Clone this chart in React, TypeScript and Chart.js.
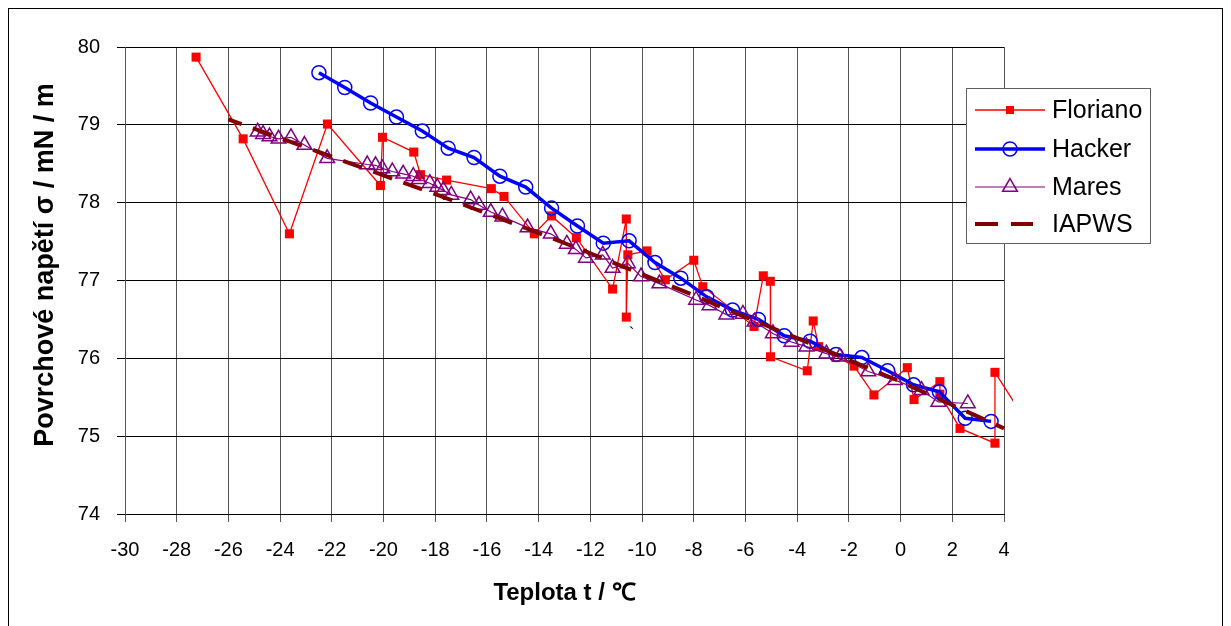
import React, { useEffect, useRef } from "react";
import { Chart, registerables } from "chart.js";

Chart.register(...registerables);

// ---- Data ----
const florianoT = [
  -27.25, -25.43, -23.64, -22.17, -20.12, -20.04, -18.83, -18.57, -17.56, -15.83,
  -15.34, -14.17, -13.5, -12.54, -11.14, -10.61, -10.61, -10.55, -9.81, -9.1,
  -8.0, -7.65, -5.67, -5.31, -5.04, -5.03, -3.61, -3.38, -3.17, -1.8,
  -1.03, 0.26, 0.52, 1.52, 1.52, 2.3, 3.65, 3.65, 5.0,
];
const florianoSigma = [
  79.87, 78.82, 77.6, 79.01, 78.22, 78.84, 78.65, 78.36, 78.29, 78.18,
  78.08, 77.6, 77.83, 77.55, 76.89, 77.79, 76.53, 77.33, 77.38, 77.01,
  77.26, 76.92, 76.41, 77.06, 76.99, 76.02, 75.84, 76.48, 76.15, 75.9,
  75.53, 75.88, 75.47, 75.7, 75.54, 75.1, 74.91, 75.82, 75.12,
];

const hackerT = [
  -22.5, -21.5, -20.5, -19.5, -18.5, -17.5, -16.5, -15.5, -14.5, -13.5,
  -12.5, -11.5, -10.5, -9.5, -8.5, -7.5, -6.5, -5.5, -4.5, -3.5,
  -2.5, -1.5, -0.5, 0.5, 1.5, 2.5, 3.5,
];
const hackerSigma = [
  79.67, 79.48, 79.28, 79.1, 78.92, 78.7, 78.58, 78.34, 78.2, 77.93,
  77.7, 77.48, 77.51, 77.23, 77.03, 76.79, 76.62, 76.5, 76.29, 76.22,
  76.05, 76.01, 75.84, 75.66, 75.57, 75.23, 75.19,
];

const maresT = [
  -24.87, -24.66, -24.41, -24.06, -23.58, -23.06, -22.18, -20.63, -20.31, -20.05,
  -19.66, -19.24, -18.85, -18.63, -18.21, -17.92, -17.69, -17.38, -16.63, -16.31,
  -15.85, -15.4, -14.43, -13.53, -12.91, -12.56, -12.17, -11.52, -11.14, -10.55,
  -10.04, -9.33, -7.91, -7.39, -6.74, -6.1, -5.65, -4.94, -4.22, -3.64,
  -2.87, -2.35, -1.25, -0.22, 0.81, 1.46, 2.6,
];
const maresSigma = [
  78.91, 78.88, 78.85, 78.82, 78.84, 78.74, 78.57, 78.49, 78.48, 78.44,
  78.4, 78.37, 78.34, 78.3, 78.25, 78.2, 78.16, 78.1, 78.04, 77.97,
  77.88, 77.82, 77.68, 77.6, 77.47, 77.4, 77.29, 77.33, 77.16, 77.22,
  77.05, 76.96, 76.75, 76.68, 76.56, 76.57, 76.47, 76.32, 76.21, 76.15,
  76.06, 76.02, 75.83, 75.72, 75.59, 75.44, 75.42,
];

const iapwsT = [-26, -24, -22, -20, -18, -16, -14, -12, -10, -8, -6, -4, -2, 0, 2, 4, 4.45];
const iapwsSigma = [
  79.07, 78.83, 78.59, 78.35, 78.11, 77.86, 77.61, 77.35, 77.08, 76.81,
  76.53, 76.26, 75.98, 75.7, 75.4, 75.1, 75.03,
];

const seriesNames = ["Floriano", "Hacker", "Mares", "IAPWS"];
const xTitle = "Teplota t / ℃";
const yTitle = "Povrchové napětí σ / mN / m";
const strayMark = { t: -10.4, sigma: 76.3, text: "`" };

const FONT = "'Liberation Sans', Arial, sans-serif";

function pts(xs: number[], ys: number[]) {
  return xs.map((x, i) => ({ x, y: ys[i] }));
}

export default function App() {
  const ref = useRef<HTMLCanvasElement | null>(null);

  useEffect(() => {
    const canvas = ref.current;
    if (!canvas) return;

    const overlayPlugin = {
      id: "overlay",
      afterDraw(chart: any) {
        const ctx = chart.ctx as CanvasRenderingContext2D;
        // stray mark
        const sx = chart.scales.x.getPixelForValue(strayMark.t);
        const sy = chart.scales.y.getPixelForValue(strayMark.sigma);
        ctx.save();
        ctx.fillStyle = "#000";
        ctx.font = `16px ${FONT}`;
        ctx.textAlign = "center";
        ctx.textBaseline = "middle";
        ctx.fillText(strayMark.text, sx, sy);
        ctx.restore();

        // y axis title
        ctx.save();
        ctx.translate(37, 256);
        ctx.rotate(-Math.PI / 2);
        ctx.fillStyle = "#000";
        ctx.font = `bold 27px ${FONT}`;
        ctx.textAlign = "center";
        ctx.textBaseline = "middle";
        ctx.fillText(yTitle, 0, 0);
        ctx.restore();

        // legend
        const bx = 957, by = 79, bw = 184, bh = 155;
        ctx.save();
        ctx.fillStyle = "#fff";
        ctx.fillRect(bx, by, bw, bh);
        ctx.strokeStyle = "#606060";
        ctx.lineWidth = 1;
        ctx.strokeRect(bx + 0.5, by + 0.5, bw, bh);
        const rows = [101, 140, 178, 215];
        const x0 = 966, x1 = 1036, xm = 1001;
        chart.data.datasets.forEach((ds: any, i: number) => {
          const y = rows[i];
          ctx.save();
          ctx.strokeStyle = ds.borderColor;
          ctx.lineWidth = ds.borderWidth;
          ctx.beginPath();
          if (ds.borderDash) {
            ctx.moveTo(x0, y);
            ctx.lineTo(x0 + 23, y);
            ctx.moveTo(x0 + 36, y);
            ctx.lineTo(x0 + 58, y);
          } else {
            ctx.moveTo(x0, y);
            ctx.lineTo(x1, y);
          }
          ctx.stroke();
          const r = ds.pointRadius;
          if (r > 0) {
            ctx.lineWidth = ds.pointBorderWidth;
            ctx.strokeStyle = ds.pointBorderColor;
            ctx.fillStyle = ds.pointBackgroundColor;
            ctx.beginPath();
            if (ds.pointStyle === "rect") {
              ctx.rect(xm - 4, y - 4, 8, 8);
              ctx.fill();
            } else if (ds.pointStyle === "circle") {
              ctx.arc(xm, y, r, 0, Math.PI * 2);
              ctx.fill();
              ctx.stroke();
            } else if (ds.pointStyle === "triangle") {
              ctx.moveTo(xm, y - r);
              ctx.lineTo(xm + (r * Math.sqrt(3)) / 2, y + r / 2);
              ctx.lineTo(xm - (r * Math.sqrt(3)) / 2, y + r / 2);
              ctx.closePath();
              ctx.fill();
              ctx.stroke();
            }
          }
          ctx.restore();
          ctx.fillStyle = "#000";
          ctx.font = `25px ${FONT}`;
          ctx.textAlign = "left";
          ctx.textBaseline = "middle";
          ctx.fillText(seriesNames[i], 1043, y + 1);
        });
        ctx.restore();
      },
    };

    const chart = new Chart(canvas, {
      type: "line",
      data: {
        datasets: [
          {
            label: seriesNames[0],
            data: pts(florianoT, florianoSigma),
            borderColor: "#FF0000",
            borderWidth: 1.3,
            pointStyle: "rect",
            pointRadius: 6.4,
            pointBackgroundColor: "#FF0000",
            pointBorderColor: "#FF0000",
            pointBorderWidth: 0,
            tension: 0,
            order: 4,
            clip: { left: 0, top: 0, right: 9, bottom: 0 },
          } as any,
          {
            label: seriesNames[1],
            data: pts(hackerT, hackerSigma),
            borderColor: "#0000FF",
            borderWidth: 3.5,
            pointStyle: "circle",
            pointRadius: 7,
            pointBackgroundColor: "rgba(0,0,0,0)",
            pointBorderColor: "#0000FF",
            pointBorderWidth: 1.5,
            tension: 0,
            order: 3,
          },
          {
            label: seriesNames[2],
            data: pts(maresT, maresSigma),
            borderColor: "#800080",
            borderWidth: 1.2,
            pointStyle: "triangle",
            pointRadius: 8.5,
            pointBackgroundColor: "rgba(0,0,0,0)",
            pointBorderColor: "#800080",
            pointBorderWidth: 1.5,
            tension: 0,
            order: 2,
          },
          {
            label: seriesNames[3],
            data: pts(iapwsT, iapwsSigma),
            borderColor: "#800000",
            borderWidth: 4,
            borderDash: [20, 12],
            borderDashOffset: 6,
            pointRadius: 0,
            tension: 0,
            order: 1,
            clip: { left: 0, top: 0, right: 10, bottom: 0 },
          } as any,
        ],
      },
      options: {
        animation: false,
        responsive: false,
        maintainAspectRatio: false,
        events: [],
        layout: { padding: { left: 0, top: 38, right: 218, bottom: 0 } },
        plugins: {
          legend: { display: false },
          tooltip: { enabled: false },
        },
        scales: {
          x: {
            type: "linear",
            min: -30,
            max: 4,
            afterFit(s: any) {
              s.height = 112;
            },
            ticks: {
              stepSize: 2,
              autoSkip: false,
              color: "#000",
              padding: 16,
              font: { family: FONT, size: 20 },
            },
            grid: {
              color: "#555",
              lineWidth: 1,
              tickLength: 8,
              drawTicks: true,
            },
            border: { display: true, color: "#000", width: 1 },
            title: {
              display: true,
              text: xTitle,
              color: "#000",
              font: { family: FONT, size: 24, weight: "bold" },
              padding: { top: 0, bottom: 18 },
            },
          },
          y: {
            type: "linear",
            min: 74,
            max: 80,
            afterFit(s: any) {
              s.width = 116;
            },
            ticks: {
              stepSize: 1,
              color: "#000",
              padding: 17,
              font: { family: FONT, size: 20 },
            },
            grid: {
              color: "#000",
              lineWidth: 1,
              tickLength: 8,
              drawTicks: true,
            },
            border: { display: true, color: "#555", width: 1 },
            title: { display: false },
          },
        },
      },
      plugins: [overlayPlugin],
    });

    return () => {
      chart.destroy();
    };
  }, []);

  return (
    <>
      <style>{"html,body{overflow:hidden;background:#fff}"}</style>
      <div
        style={{
          position: "relative",
          width: 1213,
          height: 618,
          border: "1px solid #000",
          background: "#fff",
        }}
      >
        <canvas
          ref={ref}
          width={1213}
          height={617}
          style={{ display: "block", width: 1213, height: 617 }}
        />
      </div>
    </>
  );
}
